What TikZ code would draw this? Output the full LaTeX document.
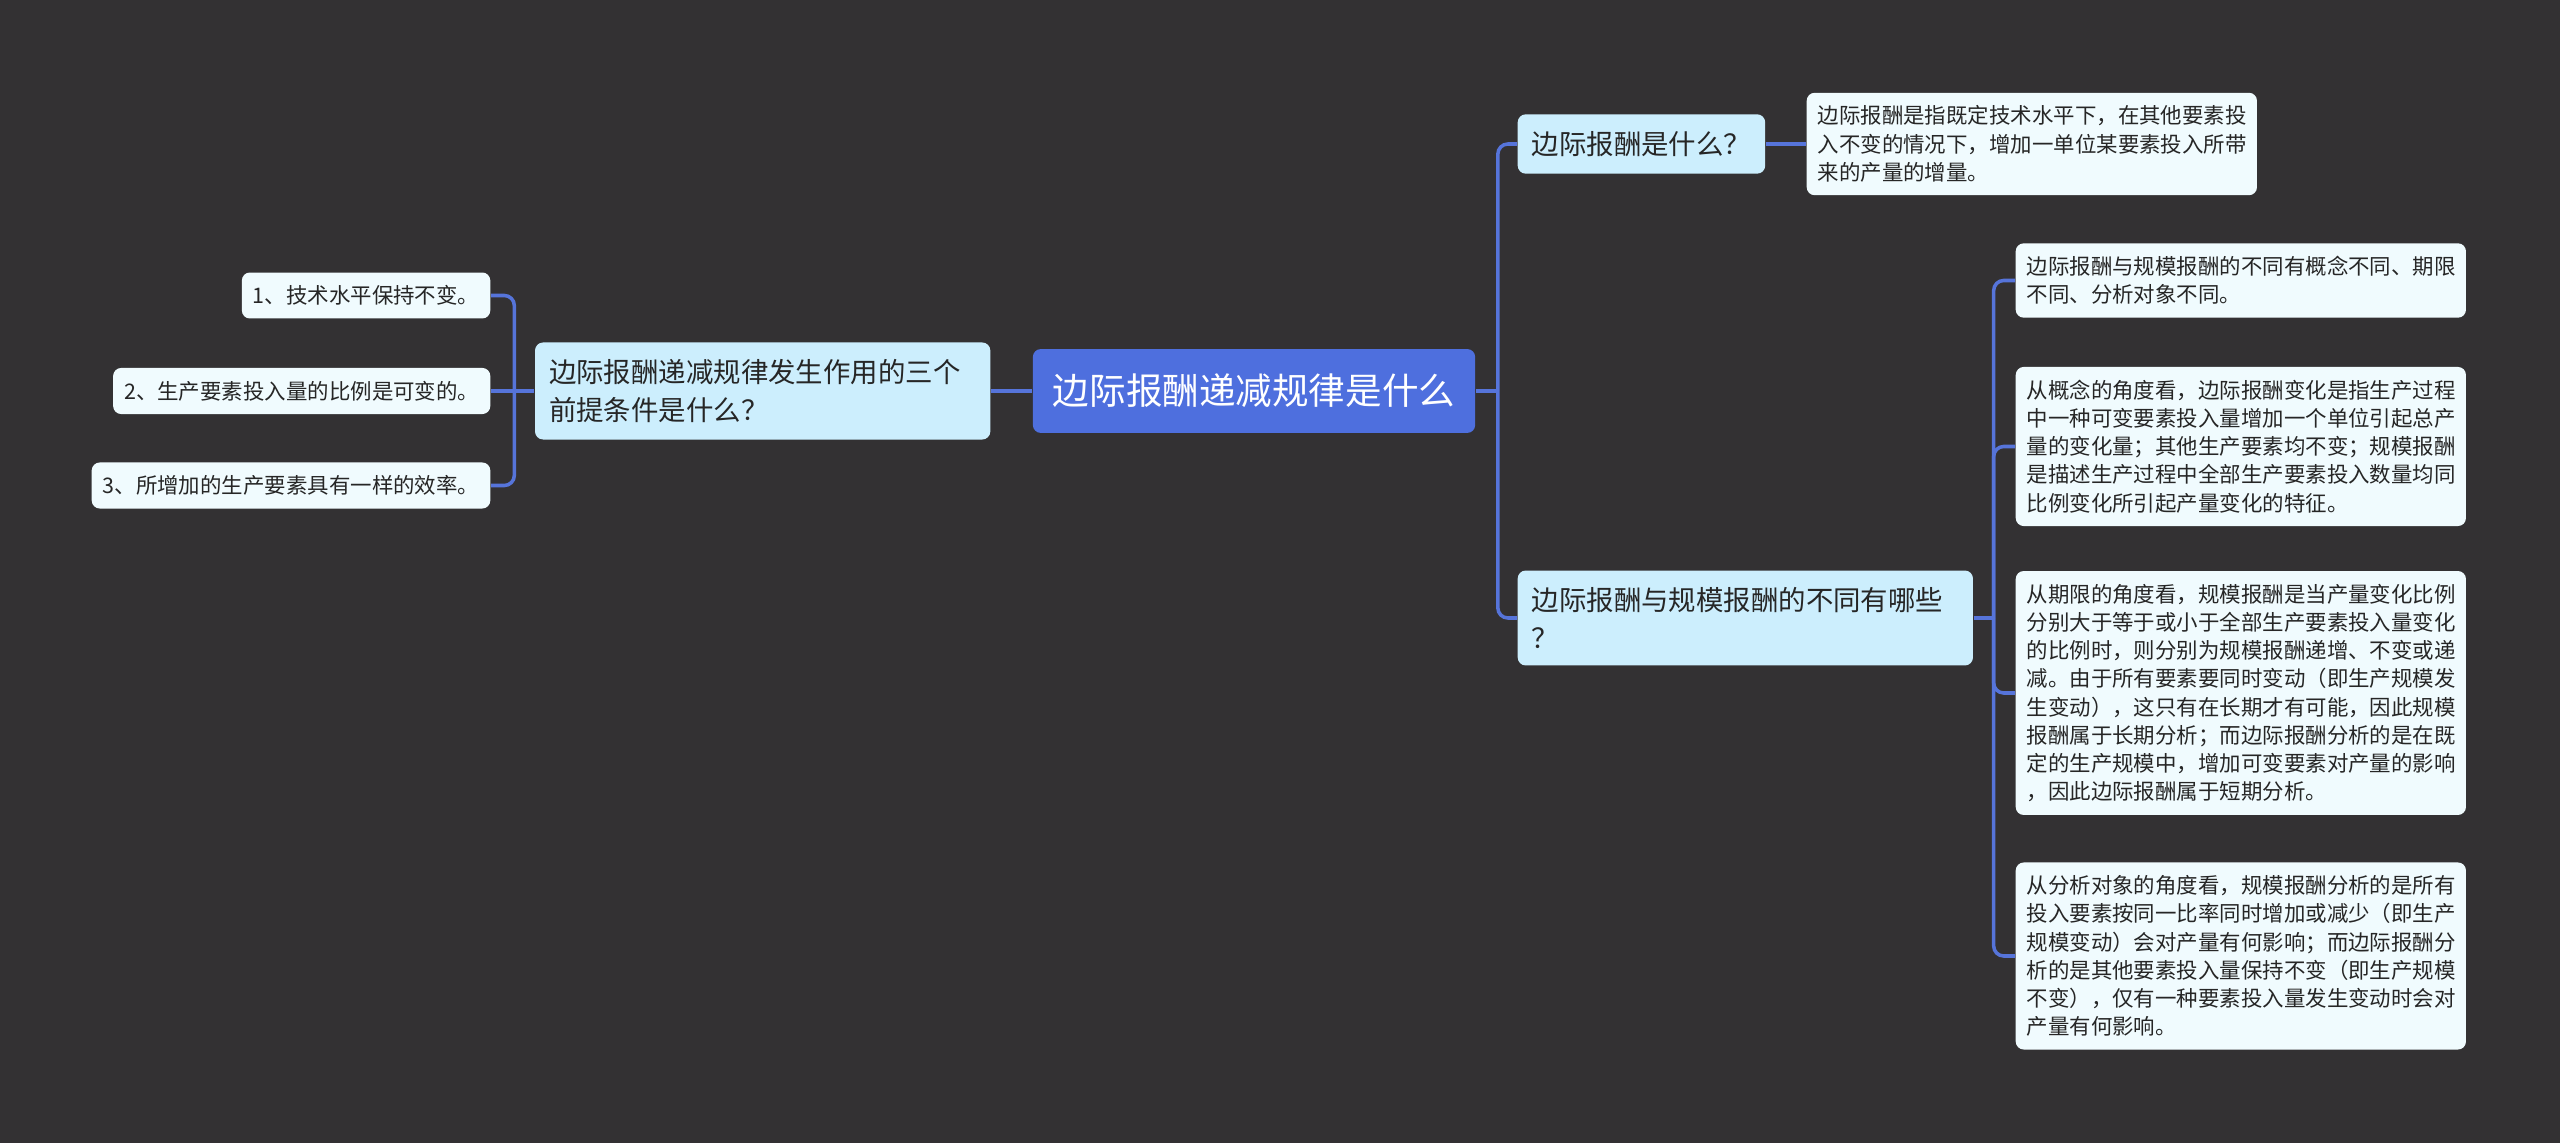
\documentclass[tikz,border=0pt]{standalone}
\usepackage{fontspec}
\setmainfont{Noto Sans CJK SC}
\usetikzlibrary{calc}
\definecolor{fondo}{HTML}{333133}
\definecolor{azul}{HTML}{4E6FDE}
\definecolor{linea}{HTML}{5674DA}
\definecolor{celeste}{HTML}{CCEEFD}
\definecolor{blanco}{HTML}{F0FBFE}
\begin{document}
\begin{tikzpicture}[x=0.01cm, y=-0.01cm,
    raiz/.style={rectangle, rounded corners=0.08cm, fill=azul, text=white, font=\fontsize{10.4pt}{12pt}\selectfont, inner xsep=0.2cm, inner ysep=0.25cm},
    rama/.style={rectangle, rounded corners=0.08cm, fill=celeste, text=black!85, font=\fontsize{7.8pt}{10.7pt}\selectfont, inner xsep=0.14cm, inner ysep=0.17cm, align=left},
    hoja/.style={rectangle, rounded corners=0.08cm, fill=blanco, text=black!85, font=\fontsize{6.1pt}{8.02pt}\selectfont, inner xsep=0.11cm, inner ysep=0.13cm, align=left},
    enlace/.style={draw=linea, line width=1pt}]
  % Fondo
  \fill[fondo] (0,0) rectangle (2560,1143);
  \useasboundingbox (0,0) rectangle (2560,1143);

  % Tema central
  \node[raiz] (raiz) at (1254,391) {边际报酬递减规律是什么};

  % Rama izquierda
  \node[rama, text width=4.27cm, anchor=east] (premisas) at (991,391) {边际报酬递减规律发生作用的三个\\前提条件是什么？};
  \node[hoja, anchor=east] (p1) at (491,295.5) {1、技术水平保持不变。};
  \node[hoja, anchor=east] (p2) at (491,391) {2、生产要素投入量的比例是可变的。};
  \node[hoja, anchor=east] (p3) at (491,485.5) {3、所增加的生产要素具有一样的效率。};

  % Rama derecha superior
  \node[rama, anchor=west] (def) at (1517,144) {边际报酬是什么？};
  \node[hoja, text width=4.28cm, anchor=west] (defd) at (1806,144) {边际报酬是指既定技术水平下，在其他要素投\\入不变的情况下，增加一单位某要素投入所带\\来的产量的增量。};

  % Rama derecha inferior
  \node[rama, text width=4.27cm, anchor=west] (dif) at (1517,618) {边际报酬与规模报酬的不同有哪些\\？};
  \node[hoja, text width=4.28cm, anchor=west] (dif1) at (2015,280.5) {边际报酬与规模报酬的不同有概念不同、期限\\不同、分析对象不同。};
  \node[hoja, text width=4.28cm, anchor=west] (dif2) at (2015,446.5) {从概念的角度看，边际报酬变化是指生产过程\\中一种可变要素投入量增加一个单位引起总产\\量的变化量；其他生产要素均不变；规模报酬\\是描述生产过程中全部生产要素投入数量均同\\比例变化所引起产量变化的特征。};
  \node[hoja, text width=4.28cm, anchor=west] (dif3) at (2015,693) {从期限的角度看，规模报酬是当产量变化比例\\分别大于等于或小于全部生产要素投入量变化\\的比例时，则分别为规模报酬递增、不变或递\\减。由于所有要素要同时变动（即生产规模发\\生变动），这只有在长期才有可能，因此规模\\报酬属于长期分析；而边际报酬分析的是在既\\定的生产规模中，增加可变要素对产量的影响\\，因此边际报酬属于短期分析。};
  \node[hoja, text width=4.28cm, anchor=west] (dif4) at (2015,956) {从分析对象的角度看，规模报酬分析的是所有\\投入要素按同一比率同时增加或减少（即生产\\规模变动）会对产量有何影响；而边际报酬分\\析的是其他要素投入量保持不变（即生产规模\\不变），仅有一种要素投入量发生变动时会对\\产量有何影响。};

  % Conectores
  \coordinate (busd) at ($(raiz.east)+(22,0)$);
  \coordinate (busi) at ($(premisas.west)+(-20,0)$);
  \coordinate (busdif) at ($(dif.east)+(20,0)$);

  \draw[enlace] (raiz.east) -- (busd);
  \draw[enlace, rounded corners=0.1cm] (busd) |- (def.west);
  \draw[enlace, rounded corners=0.1cm] (busd) |- (dif.west);

  \draw[enlace] (raiz.west) -- (premisas.east);
  \draw[enlace] (premisas.west) -- (busi);
  \draw[enlace, rounded corners=0.1cm] (busi) |- (p1.east);
  \draw[enlace] (busi) -- (p2.east);
  \draw[enlace, rounded corners=0.1cm] (busi) |- (p3.east);

  \draw[enlace] (def.east) -- (defd.west);

  \draw[enlace] (dif.east) -- (busdif);
  \draw[enlace, rounded corners=0.1cm] (busdif) |- (dif1.west);
  \draw[enlace, rounded corners=0.1cm] (busdif) |- (dif2.west);
  \draw[enlace, rounded corners=0.1cm] (busdif) |- (dif3.west);
  \draw[enlace, rounded corners=0.1cm] (busdif) |- (dif4.west);
\end{tikzpicture}
\end{document}
